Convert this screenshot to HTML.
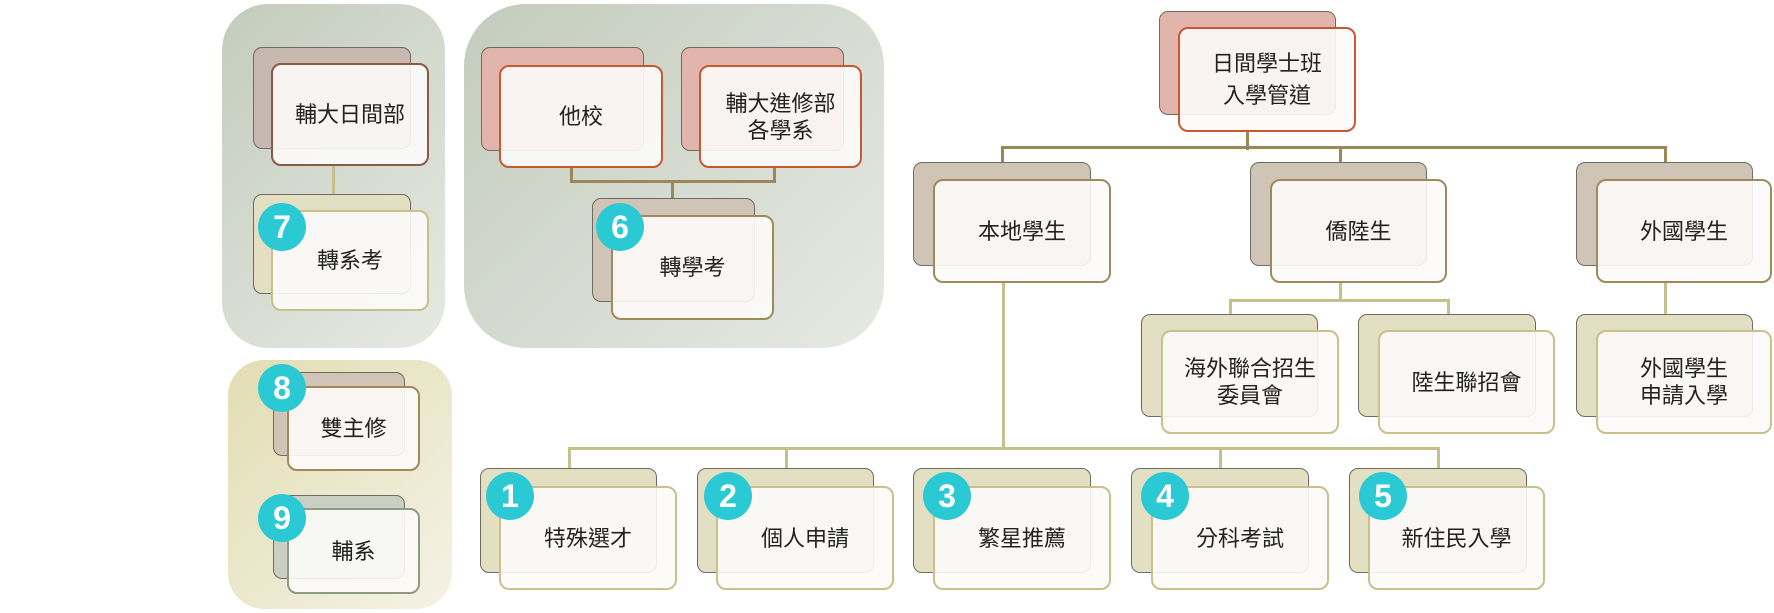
<!DOCTYPE html>
<html><head><meta charset="utf-8"><style>
html,body{margin:0;padding:0;background:#fff;}
body{width:1774px;height:613px;position:relative;overflow:hidden;font-family:"Liberation Sans","Noto Sans CJK TC",sans-serif;}
.p{position:absolute;}
.bk{position:absolute;border:1.5px solid #6f6a62;border-radius:9px;box-sizing:border-box;}
.fr{position:absolute;border:2.5px solid #a08a5c;border-radius:10px;box-sizing:border-box;background:rgba(252,251,249,0.9);display:flex;align-items:center;justify-content:center;text-align:center;font-size:22px;line-height:27px;color:#222;}
.ln{position:absolute;}
.bd{position:absolute;width:48px;height:48px;border-radius:50%;background:#2bc9d3;color:#fff;font-weight:bold;font-size:32px;line-height:48px;text-align:center;font-family:"Liberation Sans",sans-serif;}
</style></head><body>
<!-- panels -->
<div class="p" style="left:222px;top:4px;width:223px;height:344px;border-radius:46px;background:linear-gradient(135deg,#c3ccbc,#e7e9e3);"></div>
<div class="p" style="left:464px;top:4px;width:420px;height:344px;border-radius:62px;background:linear-gradient(135deg,#c3ccbc,#e7e9e3);"></div>
<div class="p" style="left:228px;top:360px;width:224px;height:249px;border-radius:36px;background:linear-gradient(135deg,#e2ddb2,#f4f2e6);"></div>

<!-- connectors dark -->
<div class="ln" style="left:1246px;top:132px;width:3px;height:18px;background:#9c8758;"></div>
<div class="ln" style="left:1001px;top:146px;width:666px;height:3px;background:#9c8758;"></div>
<div class="ln" style="left:1001px;top:146px;width:3px;height:17px;background:#9c8758;"></div>
<div class="ln" style="left:1664px;top:146px;width:3px;height:17px;background:#9c8758;"></div>
<div class="ln" style="left:1339px;top:146px;width:3px;height:17px;background:#9c8758;"></div>
<div class="ln" style="left:570px;top:166px;width:3px;height:16px;background:#9c8758;"></div>
<div class="ln" style="left:773px;top:166px;width:3px;height:16px;background:#9c8758;"></div>
<div class="ln" style="left:570px;top:180px;width:206px;height:3px;background:#9c8758;"></div>
<div class="ln" style="left:671px;top:180px;width:3px;height:19px;background:#9c8758;"></div>
<!-- connectors light -->
<div class="ln" style="left:332px;top:166px;width:3px;height:30px;background:#c8c08a;"></div>
<div class="ln" style="left:1002px;top:283px;width:3px;height:166px;background:#c8c08a;"></div>
<div class="ln" style="left:568px;top:447px;width:872px;height:3px;background:#c8c08a;"></div>
<div class="ln" style="left:568px;top:447px;width:3px;height:22px;background:#c8c08a;"></div>
<div class="ln" style="left:785px;top:447px;width:3px;height:22px;background:#c8c08a;"></div>
<div class="ln" style="left:1219px;top:447px;width:3px;height:22px;background:#c8c08a;"></div>
<div class="ln" style="left:1437px;top:447px;width:3px;height:22px;background:#c8c08a;"></div>
<div class="ln" style="left:1339px;top:283px;width:3px;height:18px;background:#c8c08a;"></div>
<div class="ln" style="left:1229px;top:299px;width:221px;height:3px;background:#c8c08a;"></div>
<div class="ln" style="left:1229px;top:299px;width:3px;height:16px;background:#c8c08a;"></div>
<div class="ln" style="left:1447px;top:299px;width:3px;height:16px;background:#c8c08a;"></div>
<div class="ln" style="left:1664px;top:283px;width:3px;height:32px;background:#c8c08a;"></div>

<!-- top -->
<div class="bk" style="left:1159px;top:11px;width:177px;height:104px;background:#e2b5ac;"></div>
<div class="fr" style="left:1178px;top:27px;width:178px;height:105px;border-color:#c8582f;line-height:32px;">日間學士班<br>入學管道</div>

<!-- 輔大日間部 -->
<div class="bk" style="left:253px;top:47px;width:158px;height:102px;background:#c7b8b0;"></div>
<div class="fr" style="left:271px;top:63px;width:158px;height:103px;border-color:#8b5a44;">輔大日間部</div>
<!-- 轉系考 -->
<div class="bk" style="left:253px;top:194px;width:158px;height:100px;background:#e2dfc2;"></div>
<div class="fr" style="left:271px;top:210px;width:158px;height:101px;border-color:#c9c08a;">轉系考</div>
<div class="bd" style="left:258px;top:203px;">7</div>

<!-- 他校 -->
<div class="bk" style="left:481px;top:47px;width:163px;height:104px;background:#e2b5ac;"></div>
<div class="fr" style="left:499px;top:65px;width:164px;height:103px;border-color:#c8582f;">他校</div>
<div class="bk" style="left:681px;top:47px;width:163px;height:104px;background:#e2b5ac;"></div>
<div class="fr" style="left:699px;top:65px;width:163px;height:103px;border-color:#c8582f;">輔大進修部<br>各學系</div>
<!-- 轉學考 -->
<div class="bk" style="left:592px;top:198px;width:163px;height:104px;background:#cfc4b6;"></div>
<div class="fr" style="left:611px;top:215px;width:163px;height:105px;">轉學考</div>
<div class="bd" style="left:596px;top:203px;">6</div>

<!-- 雙主修 -->
<div class="bk" style="left:273px;top:372px;width:132px;height:84px;background:#cfc4b6;"></div>
<div class="fr" style="left:287px;top:386px;width:133px;height:85px;">雙主修</div>
<div class="bd" style="left:258px;top:364px;">8</div>
<!-- 輔系 -->
<div class="bk" style="left:273px;top:495px;width:132px;height:84px;background:#c9cfc2;"></div>
<div class="fr" style="left:287px;top:508px;width:133px;height:86px;border-color:#8f9a85;">輔系</div>
<div class="bd" style="left:258px;top:494px;">9</div>

<!-- level 2 -->
<div class="bk" style="left:913px;top:162px;width:178px;height:104px;background:#cfc4b6;"></div>
<div class="fr" style="left:933px;top:179px;width:178px;height:104px;">本地學生</div>
<div class="bk" style="left:1250px;top:162px;width:177px;height:104px;background:#cfc4b6;"></div>
<div class="fr" style="left:1270px;top:179px;width:177px;height:104px;">僑陸生</div>
<div class="bk" style="left:1576px;top:162px;width:177px;height:104px;background:#cfc4b6;"></div>
<div class="fr" style="left:1596px;top:179px;width:176px;height:104px;">外國學生</div>

<!-- level 3 -->
<div class="bk" style="left:1141px;top:314px;width:177px;height:103px;background:#e2dfc2;"></div>
<div class="fr" style="left:1161px;top:330px;width:178px;height:104px;border-color:#c9c08a;">海外聯合招生<br>委員會</div>
<div class="bk" style="left:1358px;top:314px;width:178px;height:103px;background:#e2dfc2;"></div>
<div class="fr" style="left:1378px;top:330px;width:177px;height:104px;border-color:#c9c08a;">陸生聯招會</div>
<div class="bk" style="left:1576px;top:314px;width:177px;height:103px;background:#e2dfc2;"></div>
<div class="fr" style="left:1596px;top:330px;width:176px;height:104px;border-color:#c9c08a;">外國學生<br>申請入學</div>

<!-- bottom row -->
<div class="bk" style="left:480px;top:468px;width:177px;height:105px;background:#e2dfc2;"></div>
<div class="fr" style="left:499px;top:486px;width:178px;height:104px;border-color:#c9c08a;">特殊選才</div>
<div class="bd" style="left:486px;top:472px;">1</div>
<div class="bk" style="left:697px;top:468px;width:177px;height:105px;background:#e2dfc2;"></div>
<div class="fr" style="left:716px;top:486px;width:178px;height:104px;border-color:#c9c08a;">個人申請</div>
<div class="bd" style="left:704px;top:472px;">2</div>
<div class="bk" style="left:913px;top:468px;width:178px;height:105px;background:#e2dfc2;"></div>
<div class="fr" style="left:933px;top:486px;width:178px;height:104px;border-color:#c9c08a;">繁星推薦</div>
<div class="bd" style="left:923px;top:472px;">3</div>
<div class="bk" style="left:1131px;top:468px;width:178px;height:105px;background:#e2dfc2;"></div>
<div class="fr" style="left:1151px;top:486px;width:178px;height:104px;border-color:#c9c08a;">分科考試</div>
<div class="bd" style="left:1141px;top:472px;">4</div>
<div class="bk" style="left:1349px;top:468px;width:178px;height:105px;background:#e2dfc2;"></div>
<div class="fr" style="left:1368px;top:486px;width:177px;height:104px;border-color:#c9c08a;">新住民入學</div>
<div class="bd" style="left:1359px;top:472px;">5</div>
</body></html>
